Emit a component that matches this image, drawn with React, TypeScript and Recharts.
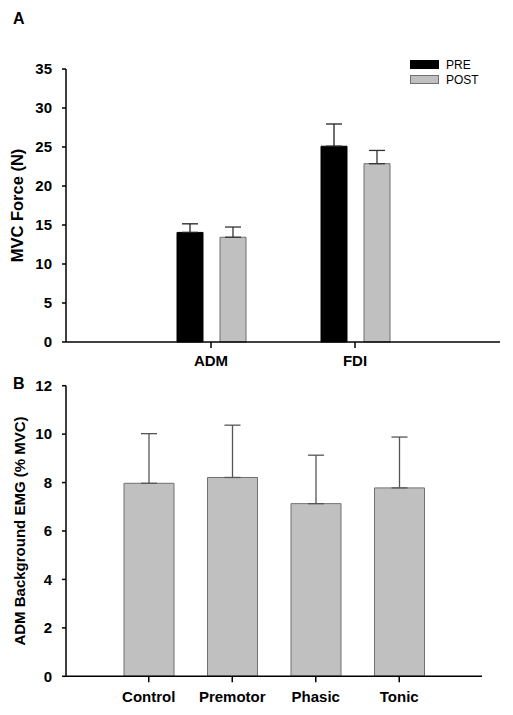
import { BarChart, Bar, XAxis, YAxis, ErrorBar, Legend } from "recharts";

const muscles = ["ADM", "FDI"];
const sessions = ["PRE", "POST"];
const preMean = [14.05, 25.1];
const preErr = [1.1, 2.85];
const postMean = [13.43, 22.86];
const postErr = [1.31, 1.7];
const forceTicks = [0, 5, 10, 15, 20, 25, 30, 35];

const conditions = ["Control", "Premotor", "Phasic", "Tonic"];
const emgMean = [7.97, 8.21, 7.13, 7.78];
const emgErr = [2.05, 2.16, 2.0, 2.1];
const emgTicks = [0, 2, 4, 6, 8, 10, 12];

const forceData = muscles.map((name, i) => ({
  name,
  pre: preMean[i],
  preErr: [0, preErr[i]],
  post: postMean[i],
  postErr: [0, postErr[i]],
}));

const emgData = conditions.map((name, i) => ({
  name,
  emg: emgMean[i],
  err: [0, emgErr[i]],
}));

const FONT = "'Liberation Sans', Arial, sans-serif";
const tickStyle = { fill: "#000", fontSize: 15, fontWeight: 700, fontFamily: FONT };
const titleStyle = (size: number) => ({
  textAnchor: "middle" as const,
  fill: "#000",
  fontSize: size,
  fontWeight: 700,
  fontFamily: FONT,
});
const axisLine = { stroke: "#000", strokeWidth: 1.5 };
const tickLine = { stroke: "#000", strokeWidth: 1.5 };

const GRAY = "#c0c0c0";
const GRAY_EDGE = "#707070";

const PanelLegend = (props: any) => {
  const items = sessions
    .map((s) => props.payload.find((p: any) => p.value === s))
    .filter(Boolean);
  return (
    <div style={{ fontFamily: FONT, fontSize: 12, color: "#000" }}>
      {items.map((p: any) => (
        <div key={p.value} style={{ display: "flex", alignItems: "center", height: 15 }}>
          <div
            style={{
              width: 27,
              height: 7,
              background: p.color,
              border: p.value === "POST" ? `1px solid ${GRAY_EDGE}` : "1px solid #000",
              marginRight: 7,
            }}
          />
          <span>{p.value}</span>
        </div>
      ))}
    </div>
  );
};

const panelLetter = (letter: string, top: number) => (
  <div
    style={{
      position: "absolute",
      left: 13,
      top,
      fontFamily: FONT,
      fontWeight: 700,
      fontSize: 16,
      lineHeight: "16px",
    }}
  >
    {letter}
  </div>
);

const App = () => {
  return (
    <div style={{ position: "absolute", left: 0, top: 0, width: 513, height: 715, background: "#fff" }}>
      {panelLetter("A", 11)}
      {panelLetter("B", 376)}

      <div style={{ position: "absolute", left: 0, top: 0 }}>
        <BarChart
          width={513}
          height={372}
          data={forceData}
          margin={{ top: 39, right: 13, left: 0, bottom: 0 }}
          barSize={26}
          barGap={17}
        >
          <XAxis
            dataKey="name"
            height={30}
            padding={{ left: 73, right: 73 }}
            interval={0}
            tick={tickStyle}
            axisLine={axisLine}
            tickLine={tickLine}
            tickSize={6}
            tickMargin={7}
          />
          <YAxis
            width={66}
            domain={[0, 35]}
            ticks={forceTicks}
            interval={0}
            tick={tickStyle}
            axisLine={axisLine}
            tickLine={tickLine}
            tickSize={4}
            tickMargin={10}
            label={{ value: "MVC Force (N)", angle: -90, position: "insideLeft", offset: 17, style: titleStyle(16.5) }}
          />
          <Legend
            verticalAlign="top"
            align="right"
            content={<PanelLegend />}
            wrapperStyle={{ position: "absolute", top: 57, left: 410, width: 90 }}
          />
          <Bar dataKey="pre" name="PRE" fill="#000" stroke="#000" strokeWidth={1} isAnimationActive={false}>
            <ErrorBar dataKey="preErr" width={8} stroke="#222" strokeWidth={1.3} direction="y" />
          </Bar>
          <Bar dataKey="post" name="POST" fill={GRAY} stroke={GRAY_EDGE} strokeWidth={1} isAnimationActive={false}>
            <ErrorBar dataKey="postErr" width={8} stroke="#333" strokeWidth={1.3} direction="y" />
          </Bar>
        </BarChart>
      </div>

      <div style={{ position: "absolute", left: 0, top: 360 }}>
        <BarChart
          width={513}
          height={355}
          data={emgData}
          margin={{ top: 25.7, right: 31, left: 0, bottom: 8.7 }}
          barSize={50}
        >
          <XAxis
            dataKey="name"
            height={30}
            padding={{ left: 41, right: 41 }}
            interval={0}
            tick={tickStyle}
            axisLine={axisLine}
            tickLine={tickLine}
            tickSize={6}
            tickMargin={9}
          />
          <YAxis
            width={66}
            domain={[0, 12]}
            ticks={emgTicks}
            interval={0}
            tick={tickStyle}
            axisLine={axisLine}
            tickLine={tickLine}
            tickSize={4}
            tickMargin={10}
            label={{ value: "ADM Background EMG (% MVC)", angle: -90, position: "insideLeft", offset: 20, style: titleStyle(15) }}
          />
          <Bar dataKey="emg" fill={GRAY} stroke={GRAY_EDGE} strokeWidth={1} isAnimationActive={false}>
            <ErrorBar dataKey="err" width={8} stroke="#555" strokeWidth={1.3} direction="y" />
          </Bar>
        </BarChart>
      </div>
    </div>
  );
};

export default App;
